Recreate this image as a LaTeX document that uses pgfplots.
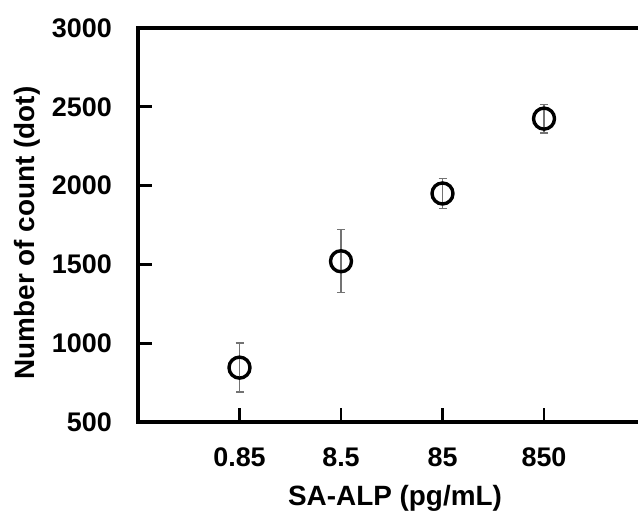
\documentclass[border=0pt]{standalone}
\usepackage{pgfplots}
\pgfplotsset{compat=1.18}
\usepackage{fontspec}
\setmainfont{Liberation Sans}
\begin{document}
\begin{tikzpicture}
\path[use as bounding box] (-138bp,-89bp) rectangle (500bp,422bp);
\begin{axis}[
  at={(0,0)}, anchor=south west,
  scale only axis, width=500bp, height=394bp,
  xmin=0, xmax=4.926, ymin=500, ymax=3000,
  axis x line*=bottom, axis y line*=left,
  x axis line style={draw=none},
  y axis line style={draw=none},
  xtick={1,2,3,4}, xticklabels={0.85,8.5,85,850},
  ytick={500,1000,1500,2000,2500,3000},
  tick align=inside,
  major tick length=14bp,
  xtick style={black, line width=2.6bp},
  ytick style={black, line width=2.6bp},
  scaled y ticks=false,
  /pgf/number format/1000 sep={},
  /pgf/number format/assume math mode=true,
  yticklabel style={anchor=east, inner sep=0pt, xshift=-26bp, font=\fontsize{27}{27}\selectfont\bfseries},
  xticklabel style={anchor=base, inner sep=0pt, yshift=-44bp, font=\fontsize{27}{27}\selectfont\bfseries},
  ylabel={Number of count (dot)},
  ylabel style={at={(axis description cs:-0.208,0.48)}, anchor=base, inner sep=0pt, font=\fontsize{28}{28}\selectfont\bfseries},
  xlabel={SA-ALP (pg/mL)},
  xlabel style={at={(axis description cs:0.514,0)}, anchor=base, inner sep=0pt, yshift=-83bp, font=\fontsize{28}{28}\selectfont\bfseries},
  clip=false,
]
\addplot[only marks, mark=o, mark size=10.5bp, mark options={line width=3.4bp, black},
  error bars/.cd, y dir=both, y explicit,
  error bar style={line width=1.4bp, black!55},
  error mark options={rotate=90, mark size=4bp, line width=1.4bp, black!55}]
coordinates {
  (1,845) +- (0,155)
  (2,1520) +- (0,200)
  (3,1950) +- (0,95)
  (4,2425) +- (0,90)
};
\draw[line width=3.6bp, black, line join=miter]
  (rel axis cs:1,1) -- (rel axis cs:0,1) -- (rel axis cs:0,0) -- (rel axis cs:1,0);
\end{axis}
\end{tikzpicture}
\end{document}
